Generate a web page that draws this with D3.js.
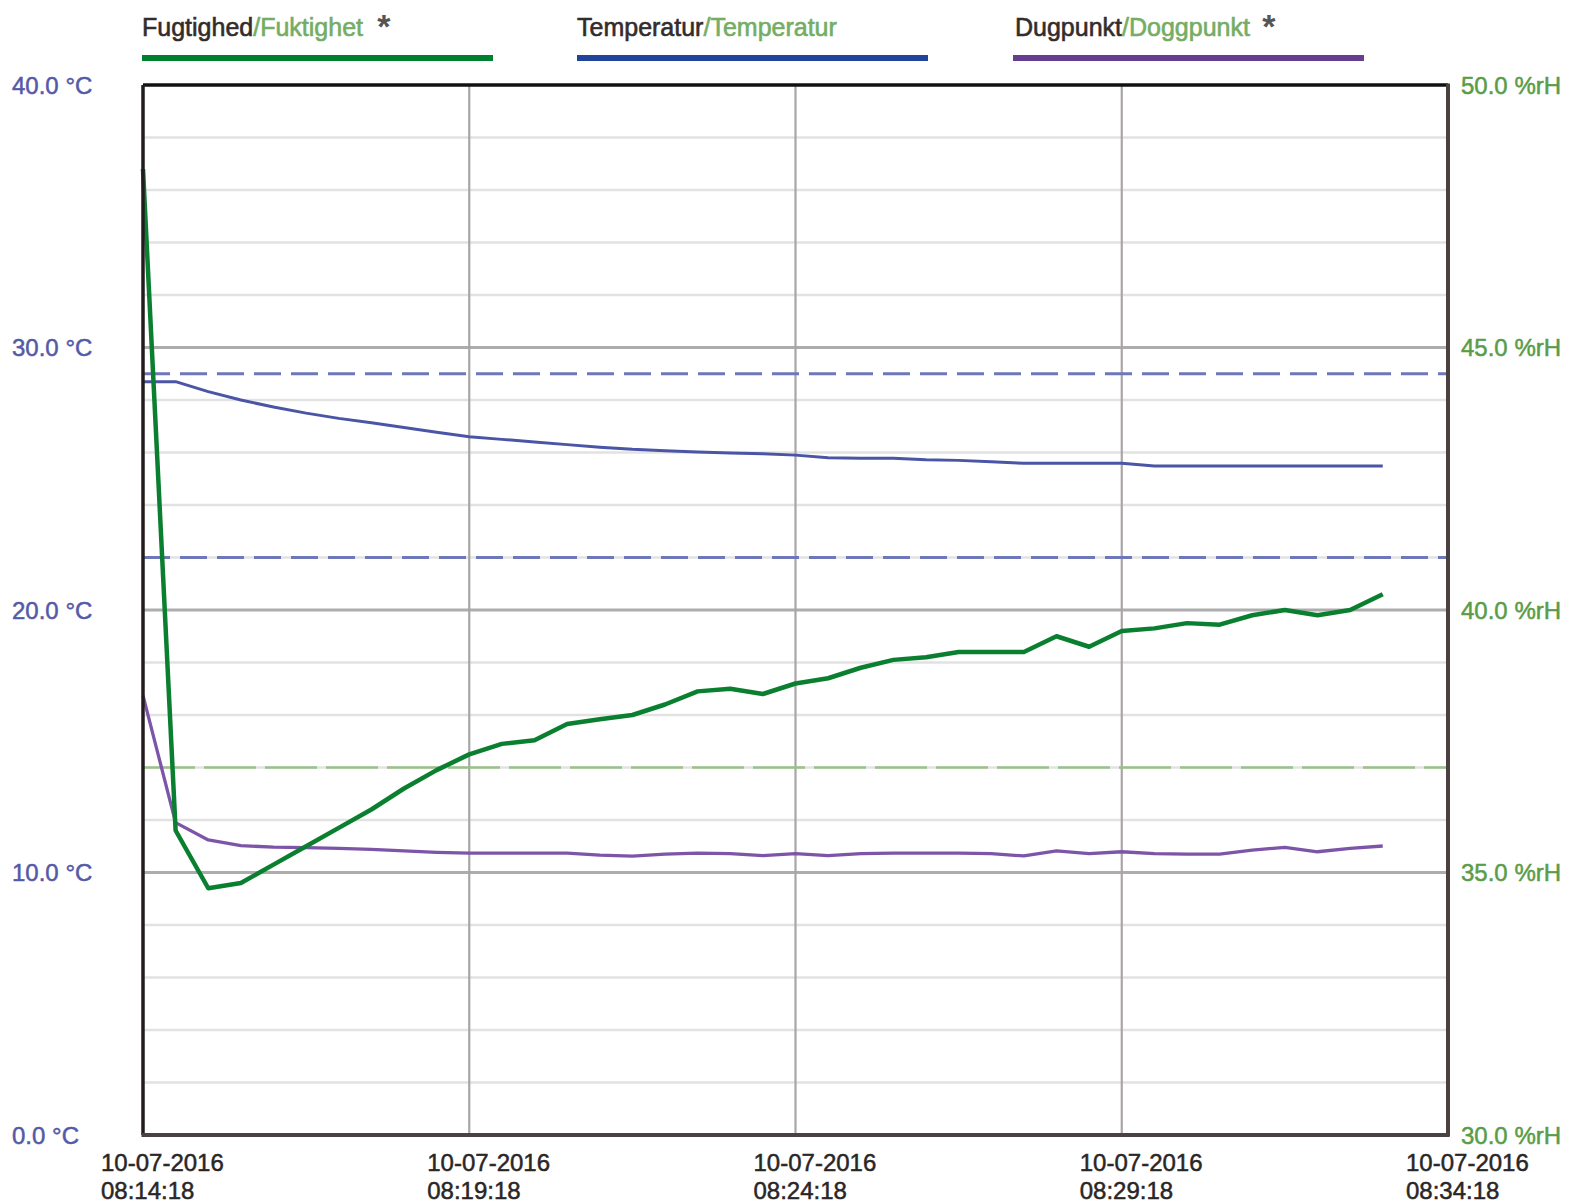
<!DOCTYPE html>
<html><head><meta charset="utf-8">
<script src="https://cdn.jsdelivr.net/npm/d3@7"></script>
<style>body{margin:0;background:#fff}svg{display:block}</style>
</head><body>
<svg id="c" width="1575" height="1204"></svg>
<script>
// ---- data ----
const sampleTimes = ["08:14:18","08:14:48","08:15:18","08:15:48","08:16:18","08:16:48","08:17:18","08:17:48",
 "08:18:18","08:18:48","08:19:18","08:19:48","08:20:18","08:20:48","08:21:18","08:21:48","08:22:18","08:22:48",
 "08:23:18","08:23:48","08:24:18","08:24:48","08:25:18","08:25:48","08:26:18","08:26:48","08:27:18","08:27:48",
 "08:28:18","08:28:48","08:29:18","08:29:48","08:30:18","08:30:48","08:31:18","08:31:48","08:32:18","08:32:48","08:33:18"];
const humidity = [48.4,35.8,34.7,34.8,35.15,35.5,35.85,36.2,36.6,36.95,37.25,37.45,37.52,37.83,37.92,38.0,38.2,38.45,
 38.5,38.4,38.6,38.7,38.9,39.05,39.1,39.2,39.2,39.2,39.5,39.3,39.6,39.65,39.75,39.72,39.9,40.0,39.9,40.0,40.3];
const temperature = [28.7,28.7,28.32,28.0,27.73,27.5,27.3,27.13,26.95,26.77,26.6,26.5,26.4,26.3,26.2,26.12,26.07,26.02,
 25.98,25.95,25.9,25.8,25.78,25.78,25.72,25.7,25.65,25.59,25.59,25.59,25.59,25.49,25.49,25.49,25.49,25.49,25.49,25.49,25.49];
const dewpoint = [16.74,11.9,11.24,11.02,10.97,10.95,10.92,10.88,10.82,10.77,10.74,10.74,10.74,10.74,10.66,10.62,10.7,10.74,
 10.72,10.64,10.72,10.64,10.72,10.74,10.74,10.74,10.72,10.63,10.82,10.72,10.79,10.72,10.7,10.7,10.85,10.96,10.79,10.92,11.01];
const tempLimits = [29, 22];
const humidityLimits = [37];
const tempTicks = [0, 10, 20, 30, 40];
const humTicks = [30, 35, 40, 45, 50];
const xTickTimes = ["08:14:18","08:19:18","08:24:18","08:29:18","08:34:18"];
const xTickDate = "10-07-2016";
const legendNames = [["Fugtighed","/Fuktighet"],["Temperatur","/Temperatur"],["Dugpunkt","/Doggpunkt"]];
const legendStars = [true, false, true];
const legendColors = ["#00802f","#22439a","#673d90"];

// ---- layout ----
const L = 143, R = 1448, T = 85, B = 1135;
const parse = d3.timeParse("%H:%M:%S");
const svg = d3.select("#c");
const font = "'Liberation Sans', Arial, sans-serif";

const x = d3.scaleTime().domain([parse(xTickTimes[0]), parse(xTickTimes[xTickTimes.length-1])]).range([L, R]);
const yT = d3.scaleLinear().domain([0, 40]).range([B, T]);
const yH = d3.scaleLinear().domain([30, 50]).range([B, T]);

// minor horizontal grid
const g = svg.append("g");
g.selectAll("line.minor").data(yT.ticks(20).filter(d => d % 10 !== 0)).join("line")
  .attr("x1", L).attr("x2", R).attr("y1", d => yT(d)).attr("y2", d => yT(d))
  .attr("stroke", "#e2e2e2").attr("stroke-width", 2.5);
// major horizontal grid
g.selectAll("line.major").data(tempTicks.filter(d => d > 0 && d < 40)).join("line")
  .attr("x1", L).attr("x2", R).attr("y1", d => yT(d)).attr("y2", d => yT(d))
  .attr("stroke", "#adadad").attr("stroke-width", 3);
// vertical grid
g.selectAll("line.v").data(xTickTimes.slice(1, -1)).join("line")
  .attr("x1", d => x(parse(d))).attr("x2", d => x(parse(d))).attr("y1", T).attr("y2", B)
  .attr("stroke", "#a9a5a5").attr("stroke-width", 2.2);

// limit lines
svg.selectAll("line.tl").data(tempLimits).join("line")
  .attr("x1", L).attr("x2", R).attr("y1", d => yT(d)).attr("y2", d => yT(d))
  .attr("stroke", "#6e77b9").attr("stroke-width", 3).attr("stroke-dasharray", "27,10");
svg.selectAll("line.hl").data(humidityLimits).join("line")
  .attr("x1", L).attr("x2", R).attr("y1", d => yH(d)).attr("y2", d => yH(d))
  .attr("stroke", "#9cc188").attr("stroke-width", 2.5).attr("stroke-dasharray", "52,9");

// series
const times = sampleTimes.map(parse);
const lineT = d3.line().x((d, i) => x(times[i])).y(d => yT(d));
const lineH = d3.line().x((d, i) => x(times[i])).y(d => yH(d));
svg.append("path").datum(temperature).attr("d", lineT).attr("fill", "none")
  .attr("stroke", "#4a55a6").attr("stroke-width", 3).attr("stroke-linejoin", "round");
svg.append("path").datum(dewpoint).attr("d", lineT).attr("fill", "none")
  .attr("stroke", "#7d55a8").attr("stroke-width", 3.3).attr("stroke-linejoin", "round");
svg.append("path").datum(humidity).attr("d", lineH).attr("fill", "none")
  .attr("stroke", "#0b7f30").attr("stroke-width", 4.5).attr("stroke-linejoin", "round");

// frame
svg.append("line").attr("x1", L).attr("x2", R).attr("y1", T).attr("y2", T).attr("stroke", "#111").attr("stroke-width", 3.5);
svg.append("line").attr("x1", L).attr("x2", L).attr("y1", T).attr("y2", B).attr("stroke", "#221c1c").attr("stroke-width", 3.5);
svg.append("line").attr("x1", R).attr("x2", R).attr("y1", T-1.5).attr("y2", B+1.5).attr("stroke", "#4a4040").attr("stroke-width", 4);
svg.append("line").attr("x1", L-1.5).attr("x2", R+1.5).attr("y1", B).attr("y2", B).attr("stroke", "#4a4242").attr("stroke-width", 4);

// left axis labels
svg.selectAll("text.yl").data(tempTicks).join("text")
  .attr("x", 12).attr("y", d => yT(d)).attr("dy", "0.36em")
  .attr("font-family", font).attr("font-size", 24).attr("fill", "#5459a8")
  .attr("stroke", "#5459a8").attr("stroke-width", 0.5)
  .text(d => d.toFixed(1) + " °C");
// right axis labels
svg.selectAll("text.yr").data(humTicks).join("text")
  .attr("x", 1461).attr("y", d => yH(d)).attr("dy", "0.36em")
  .attr("font-family", font).attr("font-size", 24).attr("fill", "#5a9c48")
  .attr("stroke", "#5a9c48").attr("stroke-width", 0.5)
  .text(d => d.toFixed(1) + " %rH");
// bottom labels
const xl = svg.selectAll("g.xl").data(xTickTimes).join("g")
  .attr("transform", d => `translate(${x(parse(d)) - 42},0)`);
xl.append("text").attr("y", 1171)
  .attr("font-family", font).attr("font-size", 24).attr("fill", "#2a2626")
  .attr("stroke", "#2a2626").attr("stroke-width", 0.5).text(xTickDate);
xl.append("text").attr("y", 1199)
  .attr("font-family", font).attr("font-size", 24).attr("fill", "#2a2626")
  .attr("stroke", "#2a2626").attr("stroke-width", 0.5).text(d => d);

// legend
const legX = [142, 577, 1013];
legendNames.forEach((nm, i) => {
  const t = svg.append("text").attr("x", legX[i] + (i === 2 ? 2 : 0)).attr("y", 36)
    .attr("font-family", font).attr("font-size", 25).attr("stroke-width", 0.6);
  t.append("tspan").attr("fill", "#332c2c").attr("stroke", "#332c2c").text(nm[0]);
  t.append("tspan").attr("fill", "#74ad63").attr("stroke", "#74ad63").text(nm[1]);
  const w = t.node().getComputedTextLength();
  if (legendStars[i]) {
    svg.append("text").attr("x", legX[i] + w + 21).attr("y", 38).attr("text-anchor", "middle")
      .attr("font-family", font).attr("font-size", 34).attr("font-weight", "bold").attr("fill", "#555").text("*");
  }
  svg.append("line").attr("x1", legX[i]).attr("x2", legX[i] + 351).attr("y1", 58).attr("y2", 58)
    .attr("stroke", legendColors[i]).attr("stroke-width", 6);
});
</script>
</body></html>
